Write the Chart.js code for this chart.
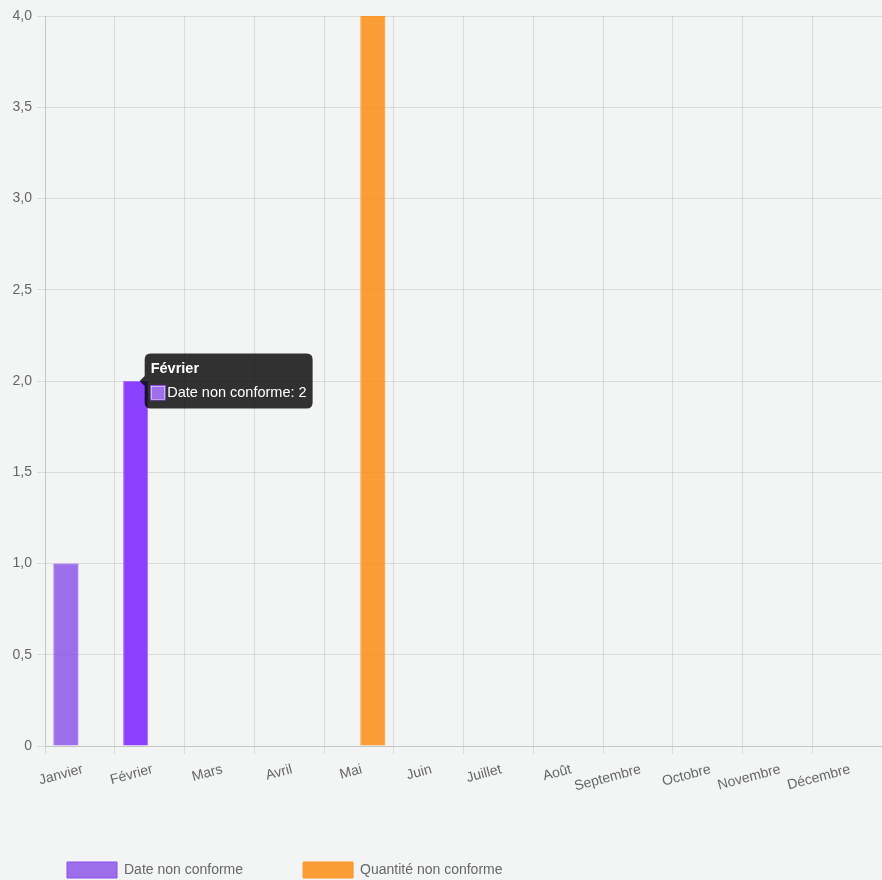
<!DOCTYPE html>
<html lang="fr">
<head>
<meta charset="utf-8">
<title>Non-conformités par mois</title>
<script src="https://cdn.jsdelivr.net/npm/chart.js@4.4.1/dist/chart.umd.min.js"></script>
<style>
  html, body {
    margin: 0;
    padding: 0;
    background: #f3f5f4;
  }
  #wrap {
    position: relative;
    width: 882px;
    height: 880px;
  }
</style>
</head>
<body>
<div id="wrap"><canvas id="nonConformites"></canvas></div>
<script>
////////////////// Données ///////////////////////

const mois = [
  "Janvier", "Février", "Mars", "Avril", "Mai", "Juin",
  "Juillet", "Août", "Septembre", "Octobre", "Novembre", "Décembre",
];
const dateNonConforme = [1, 2, 0, 0, 0, 0, 0, 0, 0, 0, 0, 0];
const quantiteNonConforme = [0, 0, 0, 0, 4, 0, 0, 0, 0, 0, 0, 0];
const yTicks = { min: 0, max: 4, step: 0.5 };

////////////////// Chart ///////////////////////

Chart.defaults.font.family = "'Liberation Sans', Arial, Helvetica, sans-serif";
Chart.defaults.font.size = 14;
Chart.defaults.color = "#666";

const ctx = document.getElementById("nonConformites");
const chart = new Chart(ctx, {
  type: "bar",
  data: {
    labels: mois,
    datasets: [
      {
        label: "Date non conforme",
        data: dateNonConforme,
        backgroundColor: "rgba(134, 76, 230, 0.8)",
        borderColor: "rgba(140, 78, 240, 1)",
        hoverBackgroundColor: "rgba(138, 64, 253, 1)",
        hoverBorderColor: "rgba(160, 110, 250, 1)",
        borderWidth: 1,
      },
      {
        label: "Quantité non conforme",
        data: quantiteNonConforme,
        backgroundColor: "rgba(253, 138, 14, 0.84)",
        borderColor: "rgba(255, 150, 40, 1)",
        borderWidth: 1,
      },
    ],
  },
  options: {
    locale: "fr-FR",
    responsive: true,
    maintainAspectRatio: false,
    animation: false,
    layout: {
      padding: { left: 7, top: 16, right: -1, bottom: 0 },
    },
    scales: {
      x: {
        grid: { color: "rgba(0, 0, 0, 0.1)" },
        ticks: {
          minRotation: 15,
          maxRotation: 15,
          autoSkip: false,
          padding: 7,
          labelOffset: 3,
        },
      },
      y: {
        min: yTicks.min,
        max: yTicks.max,
        beginAtZero: true,
        grid: { color: "rgba(0, 0, 0, 0.1)" },
        ticks: { stepSize: yTicks.step, padding: 5 },
        afterFit: function (scale) {
          scale.width = 38;
        },
      },
    },
    plugins: {
      legend: {
        position: "bottom",
        align: "start",
        maxHeight: 78,
        labels: {
          boxWidth: 50,
          boxHeight: 16,
          padding: 60,
          font: { size: 14 },
        },
      },
      tooltip: {
        titleFont: { size: 14.5, weight: "bold" },
        bodyFont: { size: 14.5 },
        padding: { x: 6, y: 7 },
        titleMarginBottom: 6,
        caretPadding: 4,
      },
    },
  },
});

// Février reste survolé, avec son infobulle
const actif = [{ datasetIndex: 0, index: 1 }];
chart.setActiveElements(actif);
chart.tooltip.setActiveElements(actif, { x: 136, y: 381 });
chart.update();
</script>
</body>
</html>
